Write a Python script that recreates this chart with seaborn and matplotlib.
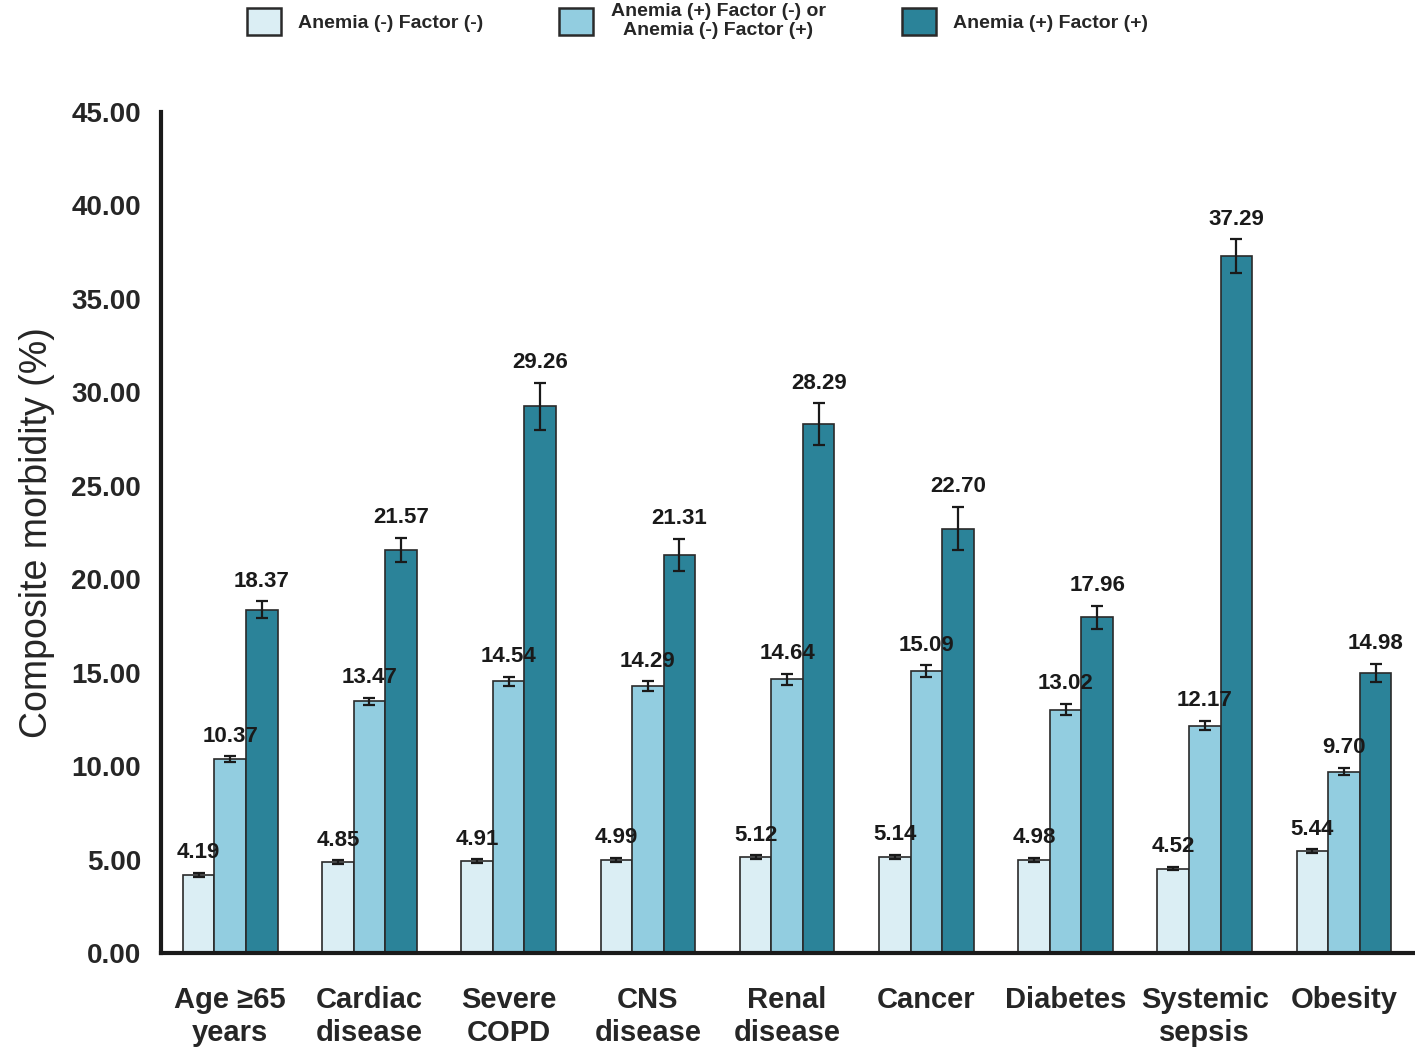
import numpy as np
import pandas as pd
import matplotlib
matplotlib.use("Agg")
import matplotlib.pyplot as plt
import seaborn as sns

categories = ["Age \u226565\nyears", "Cardiac\ndisease", "Severe\nCOPD", "CNS\ndisease",
              "Renal\ndisease", "Cancer", "Diabetes", "Systemic\nsepsis", "Obesity"]
groups = ["Anemia (-) Factor (-)",
          "Anemia (+) Factor (-) or\nAnemia (-) Factor (+)",
          "Anemia (+) Factor (+)"]
vals_neg_neg = [4.19, 4.85, 4.91, 4.99, 5.12, 5.14, 4.98, 4.52, 5.44]
vals_mixed = [10.37, 13.47, 14.54, 14.29, 14.64, 15.09, 13.02, 12.17, 9.70]
vals_pos_pos = [18.37, 21.57, 29.26, 21.31, 28.29, 22.70, 17.96, 37.29, 14.98]
err_neg_neg = [0.10, 0.10, 0.10, 0.10, 0.10, 0.10, 0.10, 0.10, 0.10]
err_mixed = [0.15, 0.20, 0.25, 0.25, 0.30, 0.30, 0.30, 0.25, 0.20]
err_pos_pos = [0.45, 0.65, 1.25, 0.85, 1.12, 1.16, 0.60, 0.90, 0.50]
yticks = [0, 5, 10, 15, 20, 25, 30, 35, 40, 45]
colors = ["#dbeef4", "#92cde0", "#2b8399"]

series_vals = [vals_neg_neg, vals_mixed, vals_pos_pos]
series_err = [err_neg_neg, err_mixed, err_pos_pos]

rows = []
for g, vs, es in zip(groups, series_vals, series_err):
    for c, v, e in zip(categories, vs, es):
        rows.append({"category": c, "group": g, "value": v, "err": e})
df = pd.DataFrame(rows)

sns.set_style("white")
plt.rcParams["font.family"] = ["Liberation Sans", "DejaVu Sans"]

fig = plt.figure(figsize=(14.15, 10.5), dpi=100)
ax = fig.add_axes([0.1135, 0.0924, 0.8855, 0.8009])

sns.barplot(data=df, x="category", y="value", hue="group", order=categories,
            hue_order=groups, palette=colors, saturation=1, width=0.68, gap=0,
            edgecolor="#2a2a2a", linewidth=1.2, errorbar=None, ax=ax, legend=True)

# error bars and value labels using bar geometry from the library
bars = [p for p in ax.patches if p.get_height() > 0 and p.get_width() < 1]
bars = bars[:len(df)]
for p, (_, r) in zip(bars, df.iterrows()):
    xc = p.get_x() + p.get_width() / 2
    h = p.get_height()
    ax.errorbar(xc, h, yerr=r["err"], fmt="none", ecolor="#1a1a1a",
                elinewidth=1.6, capsize=4, capthick=1.6, zorder=5)
    ax.annotate(f"{r['value']:.2f}", xy=(xc, h + r["err"]), xytext=(0, 7),
                textcoords="offset points", ha="center", va="bottom",
                fontsize=16, fontweight="bold", color="#1a1a1a", zorder=6)

ax.set_ylim(0, 45)
ax.set_xlim(-0.5, 8.5)
ax.set_yticks(yticks)
ax.set_yticklabels([f"{t:.2f}" for t in yticks], fontsize=20, fontweight="bold")
ax.set_xticks(np.arange(len(categories)))
ax.set_xticklabels(categories, fontsize=21, fontweight="bold", linespacing=1.2)
ax.tick_params(axis="x", length=0, pad=24)
ax.set_xticks(np.arange(len(categories) + 1) - 0.5, minor=True)
ax.tick_params(axis="x", which="minor", length=7, width=2, direction="out", color="#222222")
ax.tick_params(axis="y", length=6, width=2, direction="out", color="#222222", pad=8)
ax.set_xlabel("")
ax.set_ylabel("Composite morbidity (%)", fontsize=27, labelpad=12)

for side in ["top", "right"]:
    ax.spines[side].set_visible(False)
for side in ["left", "bottom"]:
    ax.spines[side].set_linewidth(3)
    ax.spines[side].set_color("#1a1a1a")

handles, labels = ax.get_legend_handles_labels()
ax.get_legend().remove()
leg = fig.legend(handles, labels, loc="upper center", bbox_to_anchor=(0.493, 1.014),
                 ncol=3, frameon=False, handlelength=1.75, handleheight=1.75,
                 columnspacing=3.9, handletextpad=0.9,
                 prop={"size": 14, "weight": "semibold"})
for t in leg.get_texts():
    t.set_multialignment("center")
for h in leg.legend_handles:
    h.set_edgecolor("#2a2a2a")
    h.set_linewidth(1.8)

fig.savefig("out.png", dpi=100)
